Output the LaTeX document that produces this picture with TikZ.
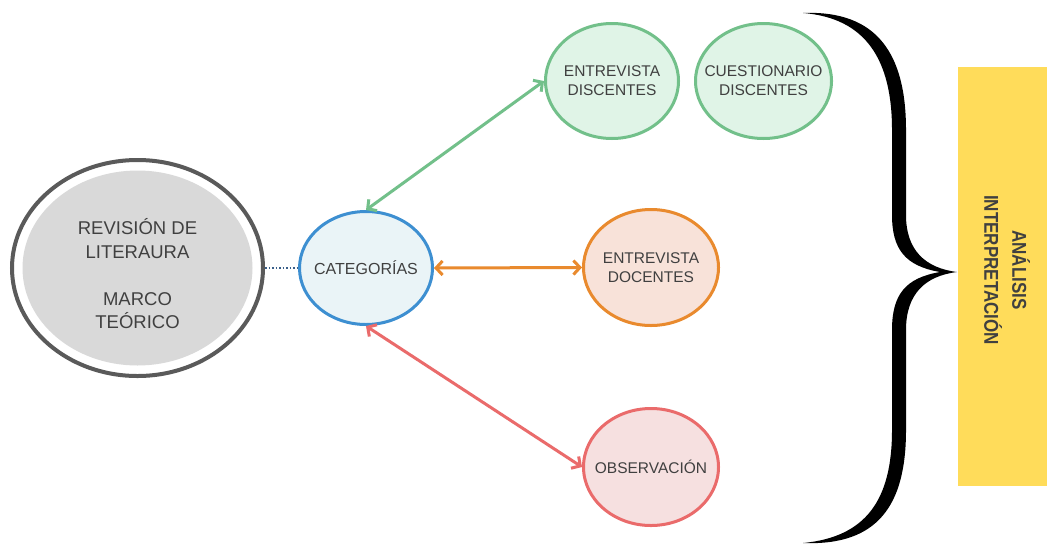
\documentclass[tikz,border=0pt]{standalone}
\usepackage{fontspec}
\setmainfont{Liberation Sans}
\usetikzlibrary{shapes.geometric,arrows.meta}
\definecolor{txt}{HTML}{404040}
\definecolor{ringgray}{HTML}{5A5A5A}
\definecolor{litfill}{HTML}{D9D9D9}
\definecolor{bluestroke}{HTML}{3D8FD1}
\definecolor{bluefill}{HTML}{EAF4F7}
\definecolor{greenstroke}{HTML}{72C08A}
\definecolor{greenfill}{HTML}{E0F4E7}
\definecolor{orangestroke}{HTML}{E98A2E}
\definecolor{orangefill}{HTML}{F8E2D9}
\definecolor{redstroke}{HTML}{EA6B6B}
\definecolor{redfill}{HTML}{F6E0E0}
\definecolor{yellowbox}{HTML}{FFDC5A}
\definecolor{dotblue}{HTML}{3A5F8A}
\newcommand\condtext[1]{\scalebox{0.85}[1]{#1}}
\newcommand\zw[1]{\makebox[0pt][c]{#1}}
\begin{document}
\begin{tikzpicture}[x=1pt,y=-1pt,
  bubble/.style={ellipse, line width=3pt, inner sep=0pt, align=center, text=txt,
    font=\fontsize{15.5}{19}\selectfont},
  twoway/.style={line width=3pt,
    {Straight Barb[length=6.5pt,width=14pt]}-{Straight Barb[length=6.5pt,width=14pt]}}
]
\useasboundingbox (0,0) rectangle (1048,544);
\fill[white] (0,0) rectangle (1048,544);

% left big ellipse
\fill[litfill] (137.5,268) ellipse [x radius=115, y radius=97.5];
\node[ellipse, draw=ringgray, line width=4pt, inner sep=0pt,
      minimum width=251, minimum height=216] (lit) at (137.5,268) {};
\node[align=center, text=txt, inner sep=0pt,
      font=\fontsize{18.5}{23.5}\selectfont] (littext) at (137.5,274)
      {REVISIÓN DE\\LITERAURA\\[23.5pt]MARCO\\TEÓRICO};

% categorias
\node[bubble, draw=bluestroke, fill=bluefill, minimum width=133, minimum height=113,
      font=\fontsize{16}{19}\selectfont] (cat) at (366,268) {\zw{CATEGORÍAS}};

% right bubbles
\node[bubble, draw=greenstroke, fill=greenfill, minimum width=133, minimum height=115]
      (ed) at (612,81) {\zw{ENTREVISTA}\\\zw{DISCENTES}};
\node[bubble, draw=greenstroke, fill=greenfill, minimum width=136, minimum height=115]
      (cd) at (763.5,81) {\zw{CUESTIONARIO}\\\zw{DISCENTES}};
\node[bubble, draw=orangestroke, fill=orangefill, minimum width=135, minimum height=116]
      (edoc) at (651,267.5) {\zw{ENTREVISTA}\\\zw{DOCENTES}};
\node[bubble, draw=redstroke, fill=redfill, minimum width=135, minimum height=117]
      (obs) at (651,467) {\zw{OBSERVACIÓN}};

% connectors
\draw[dotblue, line width=1.5pt, dotted] (lit.east) -- (cat.west);
\draw[twoway, greenstroke] (cat.north) -- (ed.west);
\draw[twoway, orangestroke] (cat.east) -- (edoc.west);
\draw[twoway, redstroke] (cat.south) -- (obs.west);

% brace
\fill[black] (803,13) .. controls (878,10) and (906,55) .. (906,130) -- (906,215)
  .. controls (906,250) and (925,268) .. (957,272)
  .. controls (925,276) and (906,294) .. (906,330) -- (906,430)
  .. controls (906,505) and (878,546) .. (803,543)
  .. controls (866,537) and (892,500) .. (892,430) -- (892,330)
  .. controls (892,295) and (905,278) .. (940,272)
  .. controls (905,266) and (892,249) .. (892,215) -- (892,130)
  .. controls (892,60) and (866,18) .. (803,13) -- cycle;

% yellow box
\node[fill=yellowbox, minimum width=89, minimum height=419, inner sep=0pt] (box) at (1002.5,276.5) {};
\node[rotate=-90, align=center, text=txt, font=\bfseries\fontsize{20}{28}\selectfont]
  (ana) at (1007,270) {\condtext{ANÁLISIS}\\\condtext{INTERPRETACIÓN}};
\end{tikzpicture}
\end{document}
